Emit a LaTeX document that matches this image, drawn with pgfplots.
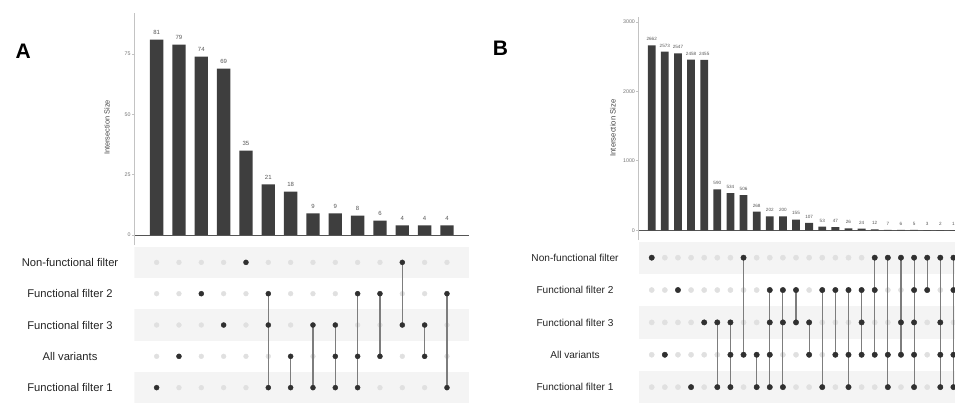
\documentclass[border=0pt]{standalone}
\usepackage{fontspec}
\setmainfont{Liberation Sans}
\usepackage{pgfplots}
\usepackage{pgfplotstable}
\pgfplotsset{compat=1.18}

\definecolor{barc}{RGB}{62,62,62}
\definecolor{dotdark}{RGB}{48,48,48}
\definecolor{dotlight}{RGB}{224,224,224}
\definecolor{bandc}{RGB}{244,244,244}
\definecolor{linkc}{RGB}{125,125,125}
\definecolor{yaxc}{RGB}{195,195,195}
\definecolor{zeroc}{RGB}{85,85,85}
\definecolor{tickc}{RGB}{115,115,115}
\definecolor{valc}{RGB}{85,85,85}
\definecolor{setc}{RGB}{35,35,35}

% intersection sizes
\pgfplotstableread{
col size
1 81
2 79
3 74
4 69
5 35
6 21
7 18
8 9
9 9
10 8
11 6
12 4
13 4
14 4
}\barsA

\pgfplotstableread{
col size
1 2662
2 2573
3 2547
4 2458
5 2455
6 590
7 534
8 506
9 268
10 202
11 200
12 155
13 107
14 53
15 47
16 26
17 24
18 12
19 7
20 6
21 5
22 3
23 2
24 1
}\barsB

% set membership of each intersection (1 = set included)
\pgfplotstableread{
col NF F2 F3 AV F1
1 0 0 0 0 1
2 0 0 0 1 0
3 0 1 0 0 0
4 0 0 1 0 0
5 1 0 0 0 0
6 0 1 1 0 1
7 0 0 0 1 1
8 0 0 1 0 1
9 0 0 1 1 1
10 0 1 0 1 1
11 0 1 0 1 0
12 1 0 1 0 0
13 0 0 1 1 0
14 0 1 0 0 1
}\matA

\pgfplotstableread{
col NF F2 F3 AV F1
1 1 0 0 0 0
2 0 0 0 1 0
3 0 1 0 0 0
4 0 0 0 0 1
5 0 0 1 0 0
6 0 0 1 0 1
7 0 0 1 1 1
8 1 0 0 1 0
9 0 0 0 1 1
10 0 1 1 1 1
11 0 1 1 0 1
12 0 1 1 0 0
13 0 0 1 1 0
14 0 1 0 0 1
15 0 1 0 1 0
16 0 1 0 1 1
17 0 1 1 1 0
18 1 1 0 1 0
19 1 0 0 1 1
20 1 0 1 1 0
21 1 1 1 1 1
22 1 1 0 0 0
23 1 0 1 1 1
24 1 1 0 1 1
}\matB

\pgfplotsset{
  /pgf/number format/assume math mode=true,
  /pgf/number format/1000 sep={},
  barpanel/.style={
    scale only axis, anchor=south west,
    axis x line*=middle, axis y line*=left,
    x axis line style={-, draw=zeroc, line width=0.9pt},
    y axis line style={-, draw=yaxc, line width=0.9pt},
    xtick=\empty, tick align=outside, major tick length=2.5pt,
    ytick style={draw=yaxc, line width=0.8pt},
    yticklabel style={text=tickc, inner sep=1pt, font=\fontsize{5.3}{6}\selectfont},
  },
  matpanel/.style={
    scale only axis, anchor=south west,
    clip marker paths=true,
    ymin=0.5, ymax=5.5,
    axis line style={draw=none}, tick style={draw=none},
    xtick=\empty, ytick={1,2,3,4,5},
    yticklabels={Functional filter 1, All variants, Functional filter 3,
                 Functional filter 2, Non-functional filter},
  },
}

% one row of the membership matrix: light dots everywhere, dark where included
\newcommand{\lightrow}[3]{\addplot[only marks, mark=*, dotlight, mark size=#3]
  table[x=col, y expr=#2] {#1};}
\newcommand{\darkrow}[4]{\addplot[scatter, only marks, mark size=#4,
  scatter src=explicit symbolic,
  scatter/classes={0={mark=none}, 1={mark=*, dotdark}}]
  table[x=col, y expr=#3, meta=#2] {#1};}

\begin{document}
\begin{tikzpicture}
\path[use as bounding box] (0pt,0pt) rectangle (955pt,405pt);
\clip (0pt,0pt) rectangle (955pt,405pt);

\node[font=\fontsize{21}{21}\selectfont\bfseries] at (23.3pt,354.2pt) {A};
\node[font=\fontsize{21}{21}\selectfont\bfseries] at (500.5pt,356.3pt) {B};

% ---------------- Panel A: bars ----------------
\begin{axis}[barpanel,
  at={(134.3pt,160pt)}, width=335pt, height=232.3pt,
  xmin=0, xmax=15, ymin=-4.15, ymax=92.2,
  ytick={0,25,50,75},
  ylabel={Intersection Size},
  every axis y label/.style={at={(axis description cs:-0.0815,0.506)},
    rotate=90, anchor=center, text=setc!85, font=\fontsize{7.4}{8}\selectfont},
]
\addplot[ybar, bar width=13.3pt, fill=barc, draw=none,
  nodes near coords,
  nodes near coords style={font=\fontsize{6}{7}\selectfont, text=valc,
    anchor=south, inner sep=0pt, yshift=4.8pt}]
  table[x=col, y=size] {\barsA};
\end{axis}

% ---------------- Panel A: matrix ----------------
\begin{axis}[matpanel,
  at={(134.3pt,1.7pt)}, width=335pt, height=156.6pt,
  xmin=0, xmax=15,
  yticklabel style={anchor=center, xshift=-64.3pt, text=setc,
    font=\fontsize{11.2}{13}\selectfont},
]
\addplot[fill=bandc, draw=none] coordinates {(0,4.5) (15,4.5) (15,5.5) (0,5.5)};
\addplot[fill=bandc, draw=none] coordinates {(0,2.5) (15,2.5) (15,3.5) (0,3.5)};
\addplot[fill=bandc, draw=none] coordinates {(0,0.5) (15,0.5) (15,1.5) (0,1.5)};
\lightrow{\matA}{5}{2.4pt}
\lightrow{\matA}{4}{2.4pt}
\lightrow{\matA}{3}{2.4pt}
\lightrow{\matA}{2}{2.4pt}
\lightrow{\matA}{1}{2.4pt}
\addplot[linkc, line width=1.1pt, mark=none, unbounded coords=jump] coordinates {
  (6,1) (6,4) (6,nan) (7,1) (7,2) (7,nan) (8,1) (8,3) (8,nan)
  (9,1) (9,3) (9,nan) (10,1) (10,4) (10,nan) (11,2) (11,4) (11,nan)
  (12,3) (12,5) (12,nan) (13,2) (13,3) (13,nan) (14,1) (14,4)};
\darkrow{\matA}{NF}{5}{2.5pt}
\darkrow{\matA}{F2}{4}{2.5pt}
\darkrow{\matA}{F3}{3}{2.5pt}
\darkrow{\matA}{AV}{2}{2.5pt}
\darkrow{\matA}{F1}{1}{2.5pt}
\end{axis}

% ---------------- Panel B: bars ----------------
\begin{axis}[barpanel,
  at={(638.6pt,165pt)}, width=316.4pt, height=223.3pt,
  xmin=0, xmax=24.12, ymin=-140, ymax=3076,
  ytick={0,1000,2000,3000},
  ylabel={Intersection Size},
  every axis y label/.style={at={(axis description cs:-0.081,0.5016)},
    rotate=90, anchor=center, text=setc!85, font=\fontsize{7.7}{8}\selectfont},
]
\addplot[ybar, bar width=7.8pt, fill=barc, draw=none,
  nodes near coords,
  nodes near coords style={font=\fontsize{4.6}{5}\selectfont, text=valc,
    anchor=south, inner sep=0pt, yshift=4.3pt}]
  table[x=col, y=size] {\barsB};
\end{axis}

% ---------------- Panel B: matrix ----------------
\begin{axis}[matpanel,
  at={(638.6pt,1.7pt)}, width=316.4pt, height=161.8pt,
  xmin=0, xmax=24.12,
  yticklabel style={anchor=center, xshift=-63.6pt, text=setc,
    font=\fontsize{10.1}{12}\selectfont},
]
\addplot[fill=bandc, draw=none] coordinates {(0,4.5) (25,4.5) (25,5.5) (0,5.5)};
\addplot[fill=bandc, draw=none] coordinates {(0,2.5) (25,2.5) (25,3.5) (0,3.5)};
\addplot[fill=bandc, draw=none] coordinates {(0,0.5) (25,0.5) (25,1.5) (0,1.5)};
\lightrow{\matB}{5}{2.6pt}
\lightrow{\matB}{4}{2.6pt}
\lightrow{\matB}{3}{2.6pt}
\lightrow{\matB}{2}{2.6pt}
\lightrow{\matB}{1}{2.6pt}
\addplot[linkc, line width=1.1pt, mark=none, unbounded coords=jump] coordinates {
  (6,1) (6,3) (6,nan) (7,1) (7,3) (7,nan) (8,2) (8,5) (8,nan)
  (9,1) (9,2) (9,nan) (10,1) (10,4) (10,nan) (11,1) (11,4) (11,nan)
  (12,3) (12,4) (12,nan) (13,2) (13,3) (13,nan) (14,1) (14,4) (14,nan)
  (15,2) (15,4) (15,nan) (16,1) (16,4) (16,nan) (17,2) (17,4) (17,nan)
  (18,2) (18,5) (18,nan) (19,1) (19,5) (19,nan) (20,2) (20,5) (20,nan)
  (21,1) (21,5) (21,nan) (22,4) (22,5) (22,nan) (23,1) (23,5) (23,nan)
  (24,1) (24,5)};
\darkrow{\matB}{NF}{5}{2.7pt}
\darkrow{\matB}{F2}{4}{2.7pt}
\darkrow{\matB}{F3}{3}{2.7pt}
\darkrow{\matB}{AV}{2}{2.7pt}
\darkrow{\matB}{F1}{1}{2.7pt}
\end{axis}
\end{tikzpicture}
\end{document}
